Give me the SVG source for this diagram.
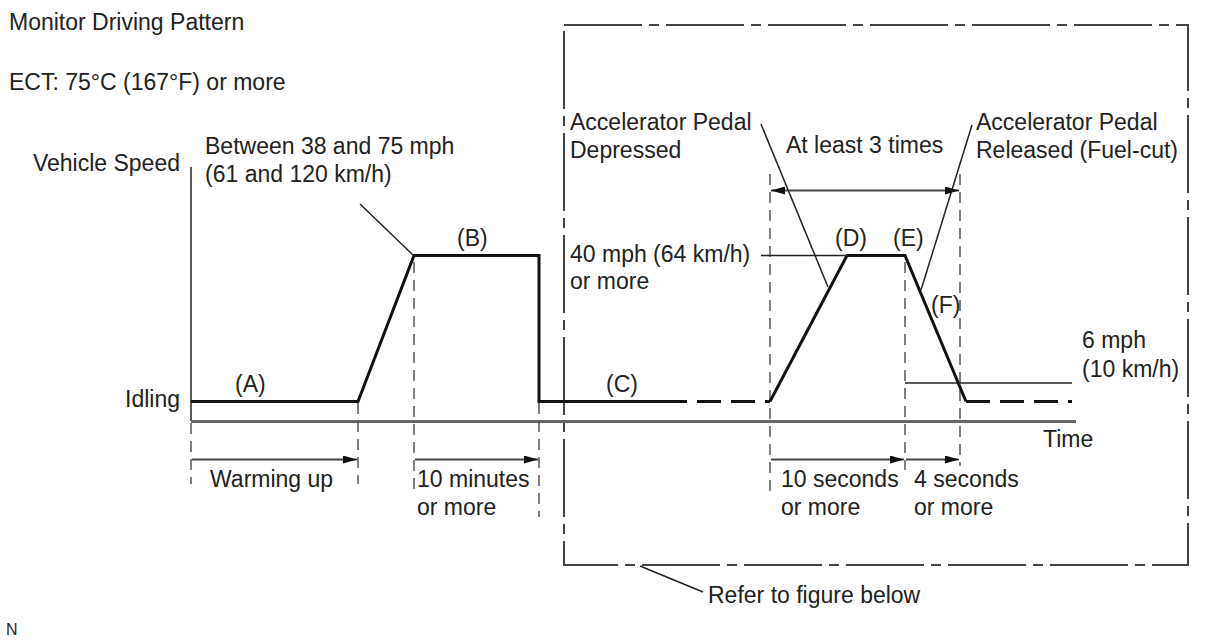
<svg xmlns="http://www.w3.org/2000/svg" width="1206" height="642" viewBox="0 0 1206 642">
<style>
text{font-family:"Liberation Sans",Arial,sans-serif;font-size:23px;fill:#222}
.thick{stroke:#111;stroke-width:3;fill:none;stroke-linejoin:miter}
.thickd{stroke:#111;stroke-width:3;fill:none;stroke-dasharray:24 10}
.thin{stroke:#222;stroke-width:1.5;fill:none}
.axis{stroke:#666;stroke-width:3;fill:none}
.guide{stroke:#555;stroke-width:1.5;fill:none;stroke-dasharray:11 7}
.box{stroke:#444;stroke-width:2;fill:none;stroke-dasharray:78 7 10 7}
.dim{stroke:#444;stroke-width:2;fill:none}
</style>
<defs>
<marker id="ah" viewBox="0 0 14 8" refX="14" refY="4" markerWidth="14" markerHeight="8" markerUnits="userSpaceOnUse" orient="auto-start-reverse">
<path d="M0,0 L14,4 L0,8 Z" fill="#111"/>
</marker>
</defs>
<rect width="1206" height="642" fill="#fff"/>

<g id="titles">
<text x="9" y="30">Monitor Driving Pattern</text>
<text x="9" y="90">ECT: 75°C (167°F) or more</text>
<text x="6" y="635" style="font-size:16px">N</text>
</g>

<g id="refer-box">
<rect class="box" x="564" y="25" width="624" height="540"/>
</g>

<g id="axes">
<line class="thin" x1="191" y1="167" x2="191" y2="421"/>
<line class="axis" x1="191" y1="421.5" x2="1076" y2="421.5"/>
<text x="180" y="171" text-anchor="end">Vehicle Speed</text>
<text x="180" y="407" text-anchor="end">Idling</text>
<text x="1043" y="447">Time</text>
</g>

<g id="guides">
<line class="guide" x1="191" y1="423" x2="191" y2="484"/>
<line class="guide" x1="358" y1="403" x2="358" y2="484"/>
<line class="guide" x1="414" y1="262" x2="414" y2="490"/>
<line class="guide" x1="539" y1="403" x2="539" y2="517"/>
<line class="guide" x1="770" y1="174" x2="770" y2="492"/>
<line class="guide" x1="905" y1="262" x2="905" y2="470"/>
<line class="guide" x1="960" y1="174" x2="960" y2="466"/>
</g>

<g id="speed-profile">
<polyline class="thick" points="191,401.5 358,401.5 414,255.5 539,255.5 539,401.5 663,401.5"/>
<line class="thickd" x1="663" y1="401.5" x2="770" y2="401.5"/>
<polyline class="thick" points="770,401.5 847,255.5 905,255.5 966,401.5"/>
<line class="thickd" x1="966" y1="401.5" x2="1072" y2="401.5"/>
<line class="thin" x1="761" y1="255.5" x2="847" y2="255.5"/>
<line class="thin" x1="905" y1="383" x2="1072" y2="383"/>
</g>

<g id="labels">
<text x="235" y="392">(A)</text>
<text x="457" y="246">(B)</text>
<text x="606" y="392">(C)</text>
<text x="835" y="246">(D)</text>
<text x="893" y="246">(E)</text>
<text x="931" y="313">(F)</text>
<text x="205" y="154">Between 38 and 75 mph</text>
<text x="205" y="182">(61 and 120 km/h)</text>
<text x="570" y="130">Accelerator Pedal</text>
<text x="570" y="158">Depressed</text>
<text x="786" y="153">At least 3 times</text>
<text x="976" y="130">Accelerator Pedal</text>
<text x="976" y="158">Released (Fuel-cut)</text>
<text x="570" y="262">40 mph (64 km/h)</text>
<text x="570" y="289">or more</text>
<text x="1082" y="348">6 mph</text>
<text x="1082" y="377">(10 km/h)</text>
<text x="210" y="487">Warming up</text>
<text x="417" y="487">10 minutes</text>
<text x="417" y="515">or more</text>
<text x="781" y="487">10 seconds</text>
<text x="781" y="515">or more</text>
<text x="914" y="487">4 seconds</text>
<text x="914" y="515">or more</text>
<text x="708" y="603">Refer to figure below</text>
</g>

<g id="connectors">
<line class="thin" x1="360" y1="204" x2="413" y2="255"/>
<line class="thin" x1="761" y1="124" x2="828" y2="287"/>
<line class="thin" x1="972" y1="125" x2="921" y2="290"/>
<line class="thin" x1="640" y1="566" x2="703" y2="592"/>
<line class="dim" x1="771" y1="190.5" x2="959" y2="190.5" marker-start="url(#ah)" marker-end="url(#ah)"/>
<line class="dim" x1="192" y1="459.5" x2="357" y2="459.5" marker-end="url(#ah)"/>
<line class="dim" x1="415" y1="459.5" x2="538" y2="459.5" marker-end="url(#ah)"/>
<line class="dim" x1="771" y1="459.5" x2="904" y2="459.5" marker-end="url(#ah)"/>
<line class="dim" x1="906" y1="459.5" x2="959" y2="459.5" marker-end="url(#ah)"/>
</g>
</svg>
